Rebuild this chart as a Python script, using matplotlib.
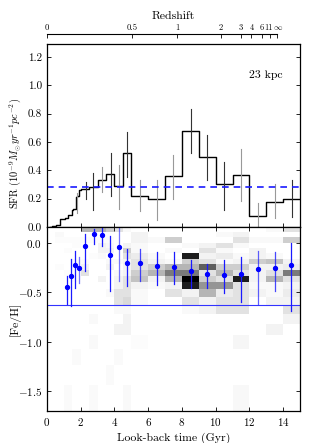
import numpy as np
import matplotlib
matplotlib.use("Agg")
import matplotlib.pyplot as plt
from matplotlib.transforms import ScaledTranslation

plt.rcParams['font.family'] = 'serif'
plt.rcParams['font.serif'] = ['cmr10']
plt.rcParams['mathtext.fontset'] = 'cm'
plt.rcParams['axes.formatter.use_mathtext'] = True

# ---------------- data ----------------
# SFR step histogram (look-back time bin edges in Gyr, SFR values)
sfr_edges = [0.18, 0.28, 0.53, 0.77, 1.07, 1.25, 1.48, 1.54, 1.72, 1.80, 1.92, 2.0,
             2.5, 3.0, 3.5, 4.0, 4.5, 5.0, 6, 7, 8, 9, 10, 11, 12, 13, 14, 15]
sfr_vals = [0.0, 0.007, 0.012, 0.054, 0.06, 0.085, 0.12, 0.127, 0.21, 0.22, 0.26,
            0.265, 0.284, 0.33, 0.373, 0.289, 0.519, 0.218, 0.195, 0.36, 0.674,
            0.49, 0.30, 0.364, 0.078, 0.176, 0.20]
mean_sfr = 0.285

# SFR error bars (time, low, high, dark?)
sfr_err_t = [1.76, 2.31, 2.75, 3.28, 3.78, 4.27, 4.76, 5.5, 6.5, 7.49, 8.52, 9.5, 10.5, 11.5, 12.5, 13.5, 14.5]
sfr_err_lo = [0.10, 0.20, 0.12, 0.25, 0.22, 0.13, 0.35, 0.11, 0.05, 0.195, 0.52, 0.33, 0.12, 0.18, -0.02, 0.06, 0.07]
sfr_err_hi = [0.24, 0.32, 0.38, 0.42, 0.52, 0.44, 0.67, 0.33, 0.33, 0.51, 0.83, 0.65, 0.46, 0.55, 0.17, 0.30, 0.33]
sfr_err_dark = [0, 1, 1, 0, 1, 0, 1, 0, 0, 0, 1, 1, 1, 0, 0, 0, 1]

# mean metallicity per bin
feh_t = [1.17, 1.40, 1.64, 1.90, 2.27, 2.77, 3.26, 3.76, 4.27, 4.77, 5.52, 6.52, 7.51,
         8.52, 9.51, 10.52, 11.5, 12.5, 13.5, 14.49]
feh_mean = [-0.45, -0.333, -0.227, -0.253, -0.027, 0.09, 0.08, -0.127, -0.037, -0.203,
            -0.20, -0.233, -0.243, -0.287, -0.317, -0.32, -0.313, -0.267, -0.253, -0.22]
feh_lo = [-0.62, -0.64, -0.46, -0.41, -0.28, -0.01, -0.03, -0.49, -0.39, -0.44,
          -0.39, -0.43, -0.42, -0.46, -0.46, -0.51, -0.60, -0.62, -0.49, -0.69]
feh_hi = [-0.33, -0.16, -0.08, -0.14, 0.09, 0.14, 0.16, 0.07, 0.16, -0.06,
          -0.06, -0.09, -0.09, -0.17, -0.21, -0.17, -0.14, -0.08, -0.09, 0.0]
feh_alpha = [1, 1, 1, 0.6, 1, 1, 1, 1, 0.6, 1, 0.8, 1, 1, 1, 1, 1, 1, 0.7, 0.8, 1]
feh_line = -0.63

# 2D metallicity histogram (intensity 0-10)
hist_t_edges = [0.5, 1.0, 1.5, 2.0, 2.5, 3.0, 3.5, 4.0, 4.5, 5.0, 6, 7, 8, 9, 10, 11, 12, 13, 14, 15]
hist_z_edges = [0.16, 0.11, 0.06, 0.0, -0.05, -0.10, -0.16, -0.21, -0.27, -0.33, -0.40,
                -0.47, -0.55, -0.63, -0.72, -0.82, -0.93, -1.07, -1.23, -1.43, -1.70]
# rows top->bottom, columns by time bins
hist_vals = [
    [0, 0, 0, 4, 4, 4, 3, 2, .5, 0, 0, 0, 0, 0, 0, 0, 0, .5, 2],
    [.5, 0, 0, 0, 0, 0, 0, 0, 0, 1, 0, 0, 0, 0, .5, 1, 0, 0, 0],
    [.3, .3, .3, .3, .3, .3, .3, 0, 0, 1, .5, 3, 0, 0, 0, 2, .5, .5, 3],
    [0, 0, .3, 0, 0, 1, .5, 0, 1, .5, 0, 0, .5, 1, 2, .5, 0, 0, 0],
    [0, .3, 0, 0, 0, 1, 1, 0, 3, .5, 0, .5, 0, 2, .5, 0, 1, 0, 0],
    [0, 0, 0, 0, .3, .5, 0, 0, 2, 1.5, .5, 0, 9, 1, 1.5, .5, 1, .5, 0],
    [0, 0, .3, .3, 0, 0, .5, .5, 1, 2, 1, .5, 3, 2, .5, 1, 3, 3.5, 1],
    [.3, 0, 0, 1, 0, 0, 1, 0, 1, 2, 3, 4, 4, 7, 3, 3, 1, 1, 1.5],
    [0, .3, .3, 2, 0, 0, 0, .5, 1, 3, 4, 6, 6, 2, 4, 2, 1, 2, 6],
    [0, 0, .3, 0, 0, 1, 0, 1, 2, 3.5, 1, 4, 10, 3, 2, 9, 1, 4, 2],
    [0, 0, 0, 0, 0, 0, 0, 1, 2, 1, .5, 1, 9, 5, 5, 2, .5, .5, 1],
    [0, 0, 0, 0, 0, 0, .5, 2, 2, .5, 0, 2, 1, 4, 1.5, 2, 1, .5, 1.5],
    [0, 0, 0, 0, 0, 0, 0, 2, 2.5, .5, 0, 0, 2, 1, 2, 2, 0, 1, 1],
    [0, 0, 0, 0, 0, 0, 0, .5, .5, 0, 0, 0, .5, 1, 2, 2, 0, 0, 2],
    [0, 0, 0, 0, .5, 0, 0, 0, 1, 0, 0, 0, 0, 0, 0, 0, 0, 0, 1],
    [0, 0, 0, 0, 0, 0, 0, 1, 1, 0, 0, 0, 0, 0, 0, 0, 0, 1, 0],
    [0, 0, 0, 0, .5, 0, 0, 0, 0, .3, 0, 0, 0, 0, 0, .8, 0, 0, 0],
    [0, 0, .4, 0, 0, 0, 0, .4, 0, 0, 0, 0, 0, 0, 0, 0, 0, 0, 0],
    [0, 0, 0, 0, 0, 0, .4, 0, 0, 0, 0, 0, 0, 0, 0, 0, 0, 0, 0],
    [0, .4, 0, 0, .4, 0, 0, 0, .5, 0, 0, 0, 0, 0, 0, .6, 0, 0, 0],
]

# axis tick labels
sfr_ticks = [0.0, 0.2, 0.4, 0.6, 0.8, 1.0, 1.2]
sfr_ticklabels = ['0.0', '0.2', '0.4', '0.6', '0.8', '1.0', '1.2']
feh_ticks = [-1.5, -1.0, -0.5, 0.0]
feh_ticklabels = [r'$-1.5$', r'$-1.0$', r'$-0.5$', r'$0.0$']
time_ticks = [0, 2, 4, 6, 8, 10, 12, 14]

# redshift axis
z_labels = ['0', '0.5', '1', '2', '3', '4', '6', '11', r'$\infty$']
z_lookback = [0.0, 5.06, 7.71, 10.32, 11.49, 12.12, 12.73, 13.23, 13.62]

# ---------------- figure ----------------
fig = plt.figure(figsize=(3.16, 4.43), dpi=100)
L, R = 47 / 316, 300 / 316
ax1 = fig.add_axes([L, 1 - 227 / 443, R - L, (227 - 44) / 443])
ax2 = fig.add_axes([L, 1 - 411.3 / 443, R - L, (411.3 - 227) / 443])

tick_kw = dict(direction='in', labelsize=8, length=3, width=0.6)

# top panel
ax1.step(sfr_edges, sfr_vals + [sfr_vals[-1]], where='post', color='black', lw=1.0)
for t, lo, hi, dk in zip(sfr_err_t, sfr_err_lo, sfr_err_hi, sfr_err_dark):
    ax1.plot([t, t], [lo, hi], color='#333333' if dk else '#999999', lw=0.8)
ax1.axhline(mean_sfr, color='#1a1aff', ls='--', lw=1.2, dashes=(4, 3))
ax1.set_xlim(0, 15)
ax1.set_ylim(0, 1.29)
ax1.set_yticks(sfr_ticks)
ax1.set_yticklabels(sfr_ticklabels)
ax1.set_xticks(time_ticks)
ax1.tick_params(axis='both', which='both', right=True, top=False, labelbottom=False, **tick_kw)
ax1.set_ylabel(r'SFR $(10^{-9}M_{\odot}yr^{-1}pc^{-2})$', fontsize=7.5)
ax1.yaxis.set_label_coords(-0.095, 0.4)
ax1.text(0.93, 0.83, '23 kpc', transform=ax1.transAxes, ha='right', va='center', fontsize=8.5)

# redshift twin axis
axz = ax1.twiny()
axz.set_xlim(0, 15)
axz.set_xticks(z_lookback)
axz.set_xticklabels(z_labels)
for s in ['bottom', 'left', 'right']:
    axz.spines[s].set_visible(False)
axz.spines['top'].set_position(('outward', 7))
axz.spines['top'].set_bounds(0, z_lookback[-1])
axz.spines['top'].set_linewidth(0.8)
axz.tick_params(axis='x', direction='in', labelsize=6.2, length=3, width=0.6, pad=2)
axz.set_xlabel('Redshift', fontsize=8.5, labelpad=3)
# nudge the two crowded last labels apart slightly
zl = axz.get_xticklabels()
zl[-2].set_transform(zl[-2].get_transform() + ScaledTranslation(-1.5 / 100, 0, fig.dpi_scale_trans))
zl[-1].set_transform(zl[-1].get_transform() + ScaledTranslation(1.5 / 100, 0, fig.dpi_scale_trans))

# bottom panel
H = np.array(hist_vals)
ax2.pcolormesh(hist_t_edges, hist_z_edges, H, cmap='Greys', vmin=0, vmax=10, shading='flat')
ax2.axhline(feh_line, color='#3333ff', lw=0.8)
for t, m, lo, hi, a in zip(feh_t, feh_mean, feh_lo, feh_hi, feh_alpha):
    ax2.plot([t, t], [lo, hi], color='#1a1aff', lw=0.9, alpha=a)
ax2.plot(feh_t, feh_mean, 'o', color='#0000ff', ms=2.8, ls='none')
ax2.set_xlim(0, 15)
ax2.set_ylim(-1.7, 0.16)
ax2.set_yticks(feh_ticks)
ax2.set_yticklabels(feh_ticklabels)
ax2.set_xticks(time_ticks)
ax2.tick_params(axis='both', which='both', right=True, top=True, **tick_kw)
ax2.set_ylabel('[Fe/H]', fontsize=8.5)
ax2.yaxis.set_label_coords(-0.105, 0.5)
ax2.set_xlabel('Look-back time (Gyr)', fontsize=8.5, labelpad=3)

for ax in (ax1, ax2):
    for s in ax.spines.values():
        s.set_linewidth(0.9)

fig.savefig('out.png', dpi=100)
